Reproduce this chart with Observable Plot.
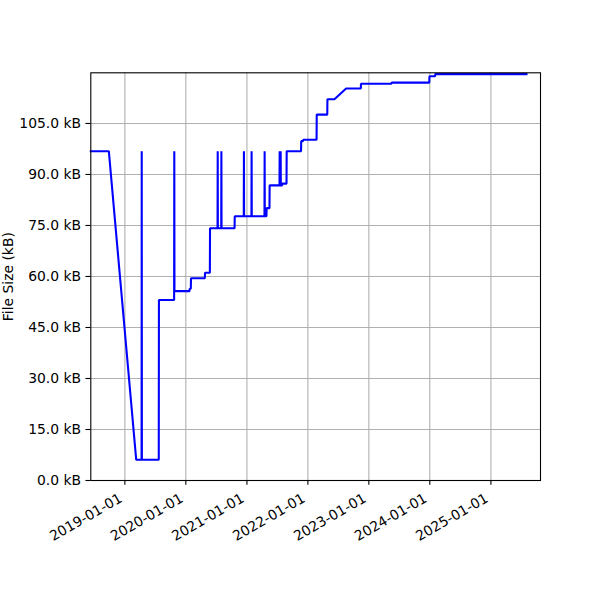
<!DOCTYPE html>
<html>
<head>
<meta charset="utf-8">
<script src="https://cdn.jsdelivr.net/npm/d3@7"></script>
<script src="https://cdn.jsdelivr.net/npm/@observablehq/plot@0.6"></script>
<style>
  html, body { margin: 0; padding: 0; background: #fff; }
  #chart svg { display: block; }
</style>
</head>
<body>
<div id="chart"></div>
<script>
// Commit dates and file sizes (kB)
const dates = [
  "2018-06-11","2018-09-27","2019-03-10","2019-04-11","2019-04-12","2019-04-13",
  "2019-07-23","2019-07-24","2019-10-23","2019-10-24","2019-10-25","2020-01-23",
  "2020-01-24","2020-01-31","2020-02-01","2020-04-24","2020-04-25","2020-05-24",
  "2020-05-25","2020-07-09","2020-07-10","2020-07-11","2020-07-31","2020-08-01",
  "2020-08-02","2020-10-19","2020-10-20","2020-12-13","2020-12-14","2020-12-15",
  "2021-01-28","2021-01-29","2021-01-30","2021-04-16","2021-04-17","2021-04-18",
  "2021-04-28","2021-04-29","2021-05-16","2021-05-17","2021-07-15","2021-07-16",
  "2021-07-17","2021-07-21","2021-07-22","2021-07-23","2021-07-31","2021-08-01",
  "2021-08-26","2021-08-27","2021-11-21","2021-11-22","2021-12-03","2021-12-04",
  "2022-02-22","2022-02-23","2022-04-27","2022-04-28","2022-06-09","2022-08-18",
  "2022-11-14","2022-11-15","2023-05-17","2023-05-18","2023-12-29","2023-12-30",
  "2024-02-02","2024-02-03","2025-08-02"
];
const sizes = [
  96.85, 96.85, 6.09, 6.09, 96.85, 6.09,
  6.09, 53.1, 53.1, 96.85, 55.7, 55.7,
  56.4, 56.4, 59.5, 59.5, 61.1, 61.1,
  74.2, 74.2, 96.85, 74.2, 74.2, 96.85,
  74.2, 74.2, 77.7, 77.7, 96.85, 77.7,
  77.7, 96.85, 77.7, 77.7, 96.85, 77.7,
  77.7, 80.1, 80.1, 86.8, 86.8, 96.85,
  86.8, 86.8, 96.85, 86.8, 86.8, 87.3,
  87.3, 96.85, 96.85, 99.8, 99.8, 100.2,
  100.2, 107.6, 107.6, 112.1, 112.1, 115.3,
  115.3, 116.7, 116.7, 117.0, 117.0, 118.9,
  118.9, 119.5, 119.5
];
const xTickLabels = ["2019-01-01","2020-01-01","2021-01-01","2022-01-01","2023-01-01","2024-01-01","2025-01-01"];
const yTicks = [0, 15, 30, 45, 60, 75, 90, 105];
const xDomain = ["2018-06-11", "2025-10-25"];
const yDomain = [0, 119.9];

const parse = d3.utcParse("%Y-%m-%d");
const data = dates.map((d, i) => ({date: parse(d), size: sizes[i]}));
const xTicks = xTickLabels.map(parse);

const fs = 13.9;
const chart = Plot.plot({
  width: 600,
  height: 600,
  marginLeft: 90.3,
  marginRight: 60,
  marginTop: 72.3,
  marginBottom: 120,
  style: {fontFamily: "DejaVu Sans", fontSize: fs + "px", background: "#fff", color: "#000"},
  x: {type: "utc", domain: xDomain.map(parse)},
  y: {domain: yDomain},
  marks: [
    Plot.gridX(xTicks, {stroke: "#b0b0b0", strokeOpacity: 1, strokeWidth: 1.1}),
    Plot.gridY(yTicks, {stroke: "#b0b0b0", strokeOpacity: 1, strokeWidth: 1.1}),
    Plot.line(data, {x: "date", y: "size", stroke: "#0000ff", strokeWidth: 2.08, strokeLinejoin: "miter", strokeLinecap: "square"}),
    Plot.frame({stroke: "#000", strokeWidth: 1.1}),
    Plot.axisY({ticks: yTicks, tickSize: 4.86, tickPadding: 4.86, strokeWidth: 1.1,
      tickFormat: d => d.toFixed(1) + " kB", label: null, fontSize: fs}),
    Plot.axisX({ticks: xTicks, tickSize: 4.86, strokeWidth: 1.1, tickFormat: () => "", label: null}),
    Plot.text(xTicks, {x: d => d, frameAnchor: "bottom", text: (d, i) => xTickLabels[i],
      rotate: -30, textAnchor: "end", lineAnchor: "middle", dx: -4, dy: 16.6, fontSize: fs, fill: "#000"}),
    Plot.text(["File Size (kB)"], {frameAnchor: "left", rotate: -90, textAnchor: "middle",
      lineAnchor: "middle", dx: -81.8, fontSize: fs, fill: "#000"})
  ]
});
document.getElementById("chart").appendChild(chart);
</script>
</body>
</html>
